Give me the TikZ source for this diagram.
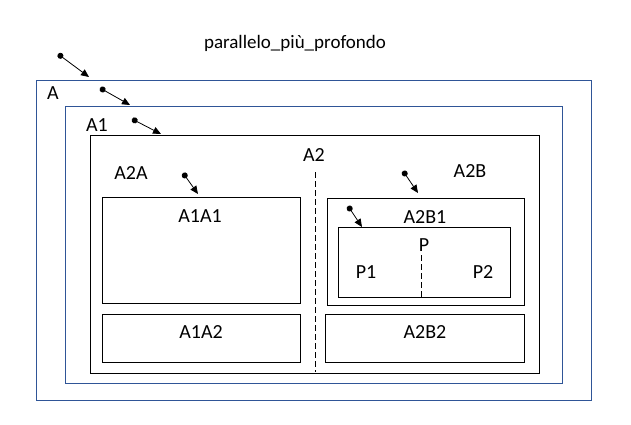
\documentclass[tikz,border=0pt]{standalone}
\usepackage{fontspec}
\setmainfont{Carlito}
\usetikzlibrary{arrows.meta}
\definecolor{boxblue}{RGB}{47,85,151}
\begin{document}
\begin{tikzpicture}[x=1pt,y=-1pt,
  bluebox/.style={draw=boxblue,line width=0.9pt},
  blackbox/.style={draw=black,line width=0.9pt},
  lbl/.style={inner sep=0pt,font=\fontsize{20}{20}\selectfont},
  ptr/.style={line width=0.8pt,{Circle[length=6pt]}-{Triangle[length=8pt,width=7pt]}}]
\useasboundingbox (0,0) rectangle (631,424);
\fill[white] (0,0) rectangle (631,424);
% boxes
\draw[bluebox] (36,80) rectangle (591,400);
\draw[bluebox] (65,106) rectangle (562,383);
\draw[blackbox] (90,135) rectangle (539,373);
\draw[blackbox] (102,197) rectangle (300,303);
\draw[blackbox] (102,314) rectangle (300,362);
\draw[blackbox] (327,198) rectangle (524,305);
\draw[blackbox] (338,227) rectangle (510,297);
\draw[blackbox] (325,314) rectangle (524,362);
% dashed dividers
\coordinate (d1a) at (315,172); \coordinate (d1b) at (315,372);
\coordinate (d2a) at (421,255); \coordinate (d2b) at (421,297);
\draw[line width=0.9pt,dash pattern=on 6pt off 3pt] (d1a) -- (d1b);
\draw[line width=0.9pt,dash pattern=on 6pt off 3pt] (d2a) -- (d2b);
% texts
\node[lbl,font=\fontsize{19}{19}\selectfont] (title) at (295,43) {parallelo\_più\_profondo};
\node[lbl] (tA) at (53,93) {A};
\node[lbl] (tA1) at (97,125) {A1};
\node[lbl] (tA2) at (314,155) {A2};
\node[lbl] (tA2A) at (131,173) {A2A};
\node[lbl] (tA1A1) at (200,216) {A1A1};
\node[lbl] (tA1A2) at (201,332) {A1A2};
\node[lbl] (tA2B) at (470,171) {A2B};
\node[lbl] (tA2B1) at (425,217) {A2B1};
\node[lbl] (tP) at (424,245) {P};
\node[lbl] (tP1) at (366,272) {P1};
\node[lbl] (tP2) at (483,272) {P2};
\node[lbl] (tA2B2) at (425,332) {A2B2};
% pointers
\coordinate (s1) at (58,54);  \coordinate (e1) at (89,77);
\coordinate (s2) at (100,88); \coordinate (e2) at (130,105);
\coordinate (s3) at (132,119);\coordinate (e3) at (161,134);
\coordinate (s4) at (183,173);\coordinate (e4) at (198,194);
\coordinate (s5) at (403,171);\coordinate (e5) at (418,193);
\coordinate (s6) at (348,206);\coordinate (e6) at (362,227);
\draw[ptr] (s1) -- (e1);
\draw[ptr] (s2) -- (e2);
\draw[ptr] (s3) -- (e3);
\draw[ptr] (s4) -- (e4);
\draw[ptr] (s5) -- (e5);
\draw[ptr] (s6) -- (e6);
\end{tikzpicture}
\end{document}
